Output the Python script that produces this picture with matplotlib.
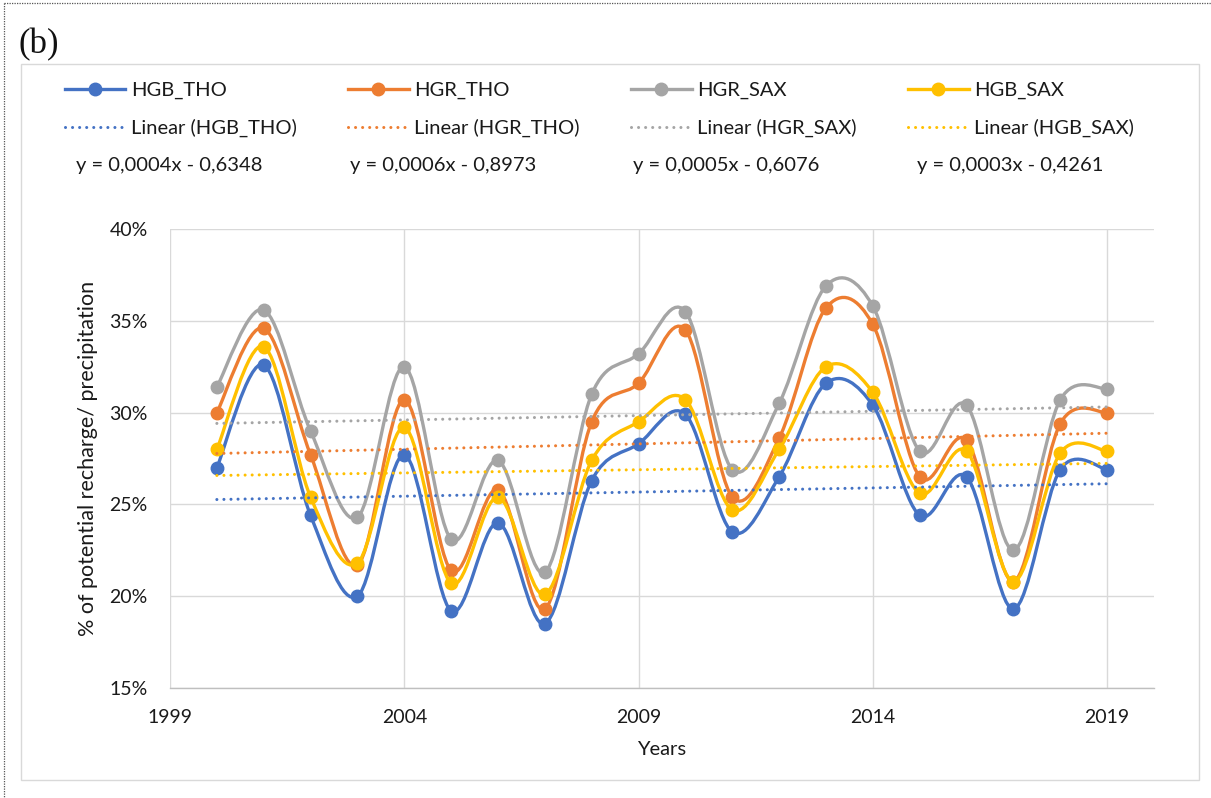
import numpy as np
import matplotlib
matplotlib.use("Agg")
import matplotlib.pyplot as plt
from matplotlib.path import Path
from matplotlib.patches import PathPatch, Rectangle
from matplotlib.lines import Line2D
from matplotlib.ticker import PercentFormatter

# ---------------- data ----------------
years = [2000, 2001, 2002, 2003, 2004, 2005, 2006, 2007, 2008, 2009,
         2010, 2011, 2012, 2013, 2014, 2015, 2016, 2017, 2018, 2019]

hgb_tho = [0.270, 0.326, 0.244, 0.200, 0.277, 0.192, 0.240, 0.185, 0.263, 0.283,
           0.299, 0.235, 0.265, 0.316, 0.304, 0.244, 0.265, 0.193, 0.269, 0.269]
hgr_tho = [0.300, 0.346, 0.277, 0.217, 0.307, 0.214, 0.258, 0.193, 0.295, 0.316,
           0.345, 0.254, 0.286, 0.357, 0.348, 0.265, 0.285, 0.208, 0.294, 0.300]
hgr_sax = [0.314, 0.356, 0.290, 0.243, 0.325, 0.231, 0.274, 0.213, 0.310, 0.332,
           0.355, 0.269, 0.305, 0.369, 0.358, 0.279, 0.304, 0.225, 0.307, 0.313]
hgb_sax = [0.280, 0.336, 0.254, 0.218, 0.292, 0.207, 0.254, 0.201, 0.274, 0.295,
           0.307, 0.247, 0.280, 0.325, 0.311, 0.256, 0.279, 0.208, 0.278, 0.279]

series_names = ["HGB_THO", "HGR_THO", "HGR_SAX", "HGB_SAX"]
series_values = [hgb_tho, hgr_tho, hgr_sax, hgb_sax]
series_colors = ["#4472C4", "#ED7D31", "#A5A5A5", "#FFC000"]
equations = ["y = 0,0004x - 0,6348", "y = 0,0006x - 0,8973",
             "y = 0,0005x - 0,6076", "y = 0,0003x - 0,4261"]

x_ticks = [1999, 2004, 2009, 2014, 2019]
y_ticks = [0.15, 0.20, 0.25, 0.30, 0.35, 0.40]

# ---------------- style ----------------
FONT = ["Lato", "DejaVu Sans"]
plt.rcParams["font.family"] = FONT
W, H = 1211, 798
fig = plt.figure(figsize=(W / 100, H / 100), dpi=100)

def fx(px):
    return px / W

def fy(py):
    return 1 - py / H

# outer dotted border (top and left)
fig.add_artist(Line2D([fx(4), fx(1211)], [fy(3), fy(3)], color="#555555", lw=0.9,
                      linestyle=(0, (1, 1)), transform=fig.transFigure))
fig.add_artist(Line2D([fx(4), fx(4)], [fy(3), fy(798)], color="#555555", lw=0.9,
                      linestyle=(0, (1, 1)), transform=fig.transFigure))
# chart area box
fig.add_artist(Rectangle((fx(21), fy(780)), fx(1199) - fx(21), fy(64) - fy(780),
                         fill=False, edgecolor="#D9D9D9", lw=1.0,
                         transform=fig.transFigure))

fig.text(fx(19), fy(45), "(b)", family=["Liberation Serif"], fontsize=25,
         va="center", ha="left", color="#111111")

ax = fig.add_axes([fx(170), fy(688), fx(1154) - fx(170), fy(229) - fy(688)])


def smooth_path(xs, ys):
    pts = np.column_stack([xs, ys]).astype(float)
    n = len(pts)
    verts = [pts[0]]
    codes = [Path.MOVETO]
    for i in range(n - 1):
        p0 = pts[i - 1] if i > 0 else pts[i]
        p1 = pts[i]
        p2 = pts[i + 1]
        p3 = pts[i + 2] if i + 2 < n else pts[i + 1]
        c1 = p1 + (p2 - p0) / 6.0
        c2 = p2 - (p3 - p1) / 6.0
        verts += [c1, c2, p2]
        codes += [Path.CURVE4] * 3
    return Path(np.array(verts), codes)


LW = 2.4
MS = 9.0
DOT = (0, (0.01, 2.3))

handles = []
for k, (name, vals, col) in enumerate(zip(series_names, series_values, series_colors)):
    z = 3 + k
    ax.add_patch(PathPatch(smooth_path(years, vals), fill=False, edgecolor=col,
                           lw=LW, zorder=z, capstyle="round", joinstyle="round"))
    ax.plot(years, vals, linestyle="none", marker="o", ms=MS, color=col,
            mec=col, zorder=z)

for k, (name, vals, col) in enumerate(zip(series_names, series_values, series_colors)):
    coef = np.polyfit(years, vals, 1)
    trend = np.polyval(coef, years)
    ax.plot(years, trend, color=col, lw=2.2, linestyle=DOT,
            dash_capstyle="round", zorder=10)

for name, col in zip(series_names, series_colors):
    handles.append(Line2D([0], [0], color=col, lw=LW, marker="o", ms=MS,
                          label=name))
    handles.append(Line2D([0], [0], color=col, lw=2.2, linestyle=DOT,
                          dash_capstyle="round", label=f"Linear ({name})"))

ax.set_xlim(1999, 2020)
ax.set_ylim(0.15, 0.40)
ax.set_xticks(x_ticks)
ax.set_yticks(y_ticks)
ax.yaxis.set_major_formatter(PercentFormatter(1.0, decimals=0))
ax.grid(True, color="#D9D9D9", lw=1.0, zorder=0)
ax.set_axisbelow(True)
for s in ["top", "right", "left"]:
    ax.spines[s].set_visible(False)
ax.spines["bottom"].set_color("#BFBFBF")
ax.spines["bottom"].set_linewidth(1.0)
ax.tick_params(axis="both", length=0, labelsize=14, colors="#1a1a1a")
ax.tick_params(axis="y", pad=16)
ax.tick_params(axis="x", pad=15)

ax.set_xlabel("Years", fontsize=14.5, color="#1a1a1a", labelpad=11)
ax.set_ylabel("% of potential recharge/ precipitation", fontsize=15.5,
              color="#1a1a1a", labelpad=8)

leg = fig.legend(handles=handles, ncol=4, loc="upper left",
                 bbox_to_anchor=(fx(65), fy(82)), frameon=False,
                 fontsize=14.5, handlelength=3.0, handletextpad=0.28,
                 columnspacing=2.55, labelspacing=0.95, borderpad=0,
                 borderaxespad=0)
for t in leg.get_texts():
    t.set_color("#1a1a1a")

eq_x = [76, 350, 633, 917]
for ex, eq in zip(eq_x, equations):
    fig.text(fx(ex), fy(165), eq, fontsize=14.5, va="center", ha="left",
             color="#1a1a1a")

fig.savefig("out.png", dpi=100)
